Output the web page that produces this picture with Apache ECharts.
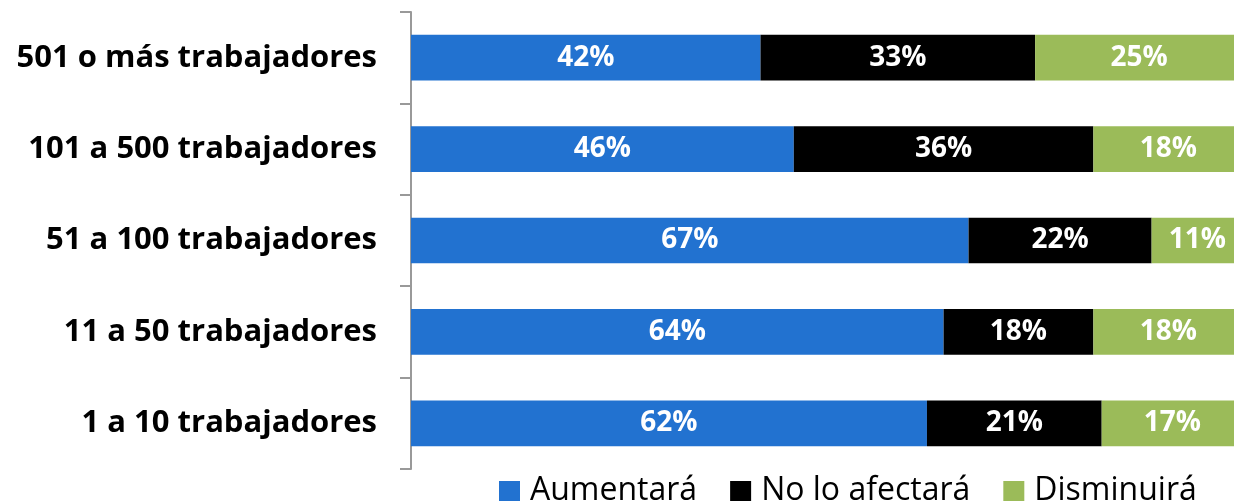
<!DOCTYPE html>
<html><head><meta charset="utf-8">
<script src="https://cdn.jsdelivr.net/npm/echarts@6/dist/echarts.min.js"></script>
<style>html,body{margin:0;padding:0;background:#fff}#c{width:1234px;height:504px}</style>
</head><body><div id="c"></div>
<script>
const categories = ["501 o más trabajadores","101 a 500 trabajadores","51 a 100 trabajadores","11 a 50 trabajadores","1 a 10 trabajadores"];
const seriesNames = ["Aumentará","No lo afectará","Disminuirá"];
const aumentara = [42,46,67,64,62];
const noAfectara = [33,36,22,18,21];
const disminuira = [25,18,11,18,17];
const colors = ["#2272D0","#000000","#9BBB59"];

const FONT = "Open Sans";
const chart = echarts.init(document.getElementById('c'));
const mk = (name, data, color) => ({
  name, type:'bar', stack:'t', data, barWidth:'50%', clip:false,
  itemStyle:{color},
  label:{show:true, position:'inside', color:'#fff', fontFamily:FONT, fontWeight:'bold', fontSize:28,
    formatter:p=>p.value+'%'}
});
chart.setOption({
  animation:false,
  grid:{left:411, right:0, top:12, bottom:35, containLabel:false},
  xAxis:{type:'value', min:0, max:98.9, show:false},
  yAxis:{type:'category', data:categories, inverse:true,
    axisLine:{show:true, lineStyle:{color:'#999', width:2}},
    axisTick:{show:true, length:11, lineStyle:{color:'#999', width:2}},
    axisLabel:{color:'#000', fontFamily:FONT, fontWeight:'bold', fontSize:31, margin:34}
  },
  legend:{data:seriesNames, left:499, top:475, padding:0, itemWidth:21, itemHeight:20, itemGap:33,
    icon:'rect', textStyle:{color:'#000', fontFamily:FONT, fontSize:32, lineHeight:30, padding:[0,0,0,5]}},
  series:[mk(seriesNames[0],aumentara,colors[0]), mk(seriesNames[1],noAfectara,colors[1]), mk(seriesNames[2],disminuira,colors[2])]
});
</script></body></html>
